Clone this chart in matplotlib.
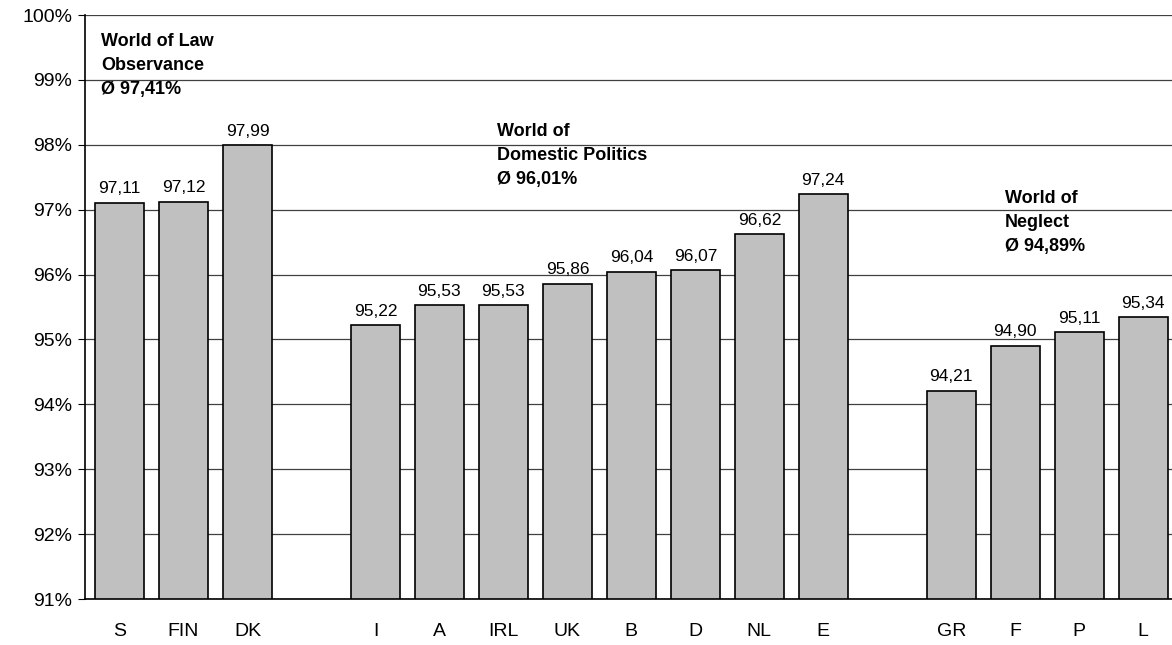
import numpy as np
import matplotlib.pyplot as plt

plt.rcParams['font.family'] = ['Liberation Sans', 'DejaVu Sans']

countries = ["S", "FIN", "DK", "I", "A", "IRL", "UK", "B", "D", "NL", "E", "GR", "F", "P", "L"]
positions = [0, 1, 2, 4, 5, 6, 7, 8, 9, 10, 11, 13, 14, 15, 16]
values = [97.11, 97.12, 97.99, 95.22, 95.53, 95.53, 95.86, 96.04, 96.07, 96.62, 97.24,
          94.21, 94.90, 95.11, 95.34]
groups = [("World of Law\nObservance\nØ 97,41%", -0.29, 99.72),
          ("World of\nDomestic Politics\nØ 96,01%", 5.9, 98.34),
          ("World of\nNeglect\nØ 94,89%", 13.84, 97.31)]

fig = plt.figure(figsize=(11.72, 6.45), dpi=100)
ax = fig.add_axes([0.0725, 0.0713, 0.9275, 0.9054])

ax.bar(positions, [v - 91 for v in values], bottom=91, width=0.77,
       color='#c0c0c0', edgecolor='black', linewidth=1.2, zorder=3)
for x, v in zip(positions, values):
    ax.text(x, v + 0.1, f"{v:.2f}".replace(".", ","), ha='center', va='bottom', fontsize=12.5)

for label, x, y in groups:
    ax.text(x, y, label, ha='left', va='top', fontsize=13, fontweight='bold', linespacing=1.55)

ax.set_ylim(91, 100)
ax.set_xlim(-0.54, 16.45)
ax.set_yticks(np.arange(91, 101))
ax.set_yticklabels([f"{t}%" for t in range(91, 101)], fontsize=14)
ax.set_xticks(positions)
ax.set_xticklabels(countries, fontsize=14)
ax.tick_params(axis='x', length=0, pad=17)
ax.tick_params(axis='y', length=5, direction='out', pad=4)
ax.yaxis.grid(True, color='#404040', linewidth=0.9, zorder=0)
for s in ['top', 'right']:
    ax.spines[s].set_visible(False)
ax.spines['left'].set_linewidth(1.2)
ax.spines['bottom'].set_linewidth(1.2)

fig.savefig("out.png", dpi=100)
